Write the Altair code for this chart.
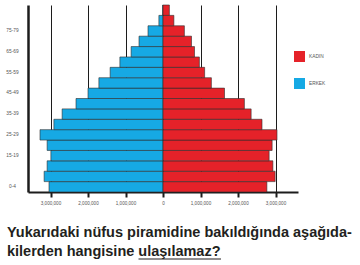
import altair as alt
import pandas as pd

# Age groups from youngest to oldest
age_groups = ["0-4", "5-9", "10-14", "15-19", "20-24", "25-29", "30-34", "35-39",
              "40-44", "45-49", "50-54", "55-59", "60-64", "65-69", "70-74",
              "75-79", "80-84", "85+"]
# Population in millions, same order as age_groups
male_millions = [3.04, 3.17, 3.09, 2.99, 3.09, 3.28, 2.91, 2.69, 2.32, 2.00,
                 1.71, 1.41, 1.15, 0.85, 0.64, 0.40, 0.11, 0.01]
female_millions = [2.77, 2.99, 2.93, 2.83, 2.91, 3.04, 2.64, 2.35, 2.17, 1.64,
                   1.29, 1.11, 0.97, 0.84, 0.76, 0.57, 0.29, 0.17]

axis_age_labels = ["0-4", "15-19", "25-29", "35-39", "45-49", "55-59", "65-69", "75-79"]
x_tick_values = [-3_000_000, -2_000_000, -1_000_000, 0, 1_000_000, 2_000_000, 3_000_000]
sex_names = ["KADIN", "ERKEK"]
sex_colors = ["#E52229", "#16A9E4"]

question_lines = ["Yukarıdaki nüfus piramidine bakıldığında aşağıda-",
                  "kilerden hangisine ulaşılamaz?"]

rows = []
for age, m, f in zip(age_groups, male_millions, female_millions):
    rows.append({"yas": age, "cinsiyet": "ERKEK", "nufus": -m * 1_000_000})
    rows.append({"yas": age, "cinsiyet": "KADIN", "nufus": f * 1_000_000})
df = pd.DataFrame(rows)

ink = "#1c1c1c"
text_ink = "#231f20"

bars = alt.Chart(df).mark_bar(stroke="#2e2e2e", strokeWidth=0.6).encode(
    x=alt.X(
        "nufus:Q",
        scale=alt.Scale(domain=[-3_600_000, 3_600_000], nice=False, zero=False),
        axis=alt.Axis(
            values=x_tick_values,
            labelExpr="format(abs(datum.value), ',')",
            title=None,
            grid=True, gridColor=ink, gridWidth=1, gridOpacity=1,
            domainColor=ink, domainWidth=2,
            tickColor=ink, tickWidth=2, tickSize=5,
            labelFont="Liberation Sans", labelFontSize=4.6, labelColor="#555555",
            labelPadding=3,
        ),
    ),
    y=alt.Y(
        "yas:N",
        sort=list(reversed(age_groups)),
        scale=alt.Scale(paddingInner=0, paddingOuter=0),
        axis=alt.Axis(
            values=axis_age_labels,
            title=None, ticks=False, tickSize=0,
            domainColor=ink, domainWidth=2.5,
            labelFont="Liberation Sans", labelFontSize=4.8, labelColor="#555555",
            labelAlign="center", labelPadding=16,
        ),
    ),
    color=alt.Color(
        "cinsiyet:N",
        scale=alt.Scale(domain=sex_names, range=sex_colors),
        legend=alt.Legend(
            title=None, orient="none", legendX=266, legendY=46,
            symbolType="square", symbolSize=121, symbolStrokeWidth=0,
            labelFont="Liberation Sans", labelFontSize=4.8, labelColor="#555555",
            labelOffset=4, rowPadding=16,
        ),
    ),
)

# two-line question printed under the pyramid
question = alt.Chart(pd.DataFrame({"q": [1]})).mark_text(
    text=question_lines, align="left", baseline="alphabetic",
    font="Liberation Sans", fontSize=14.5, fontWeight="bold",
    color=text_ink, lineHeight=19,
).encode(x=alt.value(-21), y=alt.value(232))

# underline beneath the last words of the question
underline = alt.Chart(pd.DataFrame({"u": [1]})).mark_rule(
    color=text_ink, strokeWidth=1.2
).encode(
    x=alt.value(110.5), x2=alt.value(193), y=alt.value(254)
)

chart = alt.layer(bars, question, underline).properties(
    width=270,
    height=187,
    autosize=alt.AutoSizeParams(type="none"),
    padding={"left": 28, "top": 5, "right": 62, "bottom": 73},
).configure(background="white").configure_view(stroke=None)

chart.save("out.html", embed_options={"renderer": "svg", "actions": False})
